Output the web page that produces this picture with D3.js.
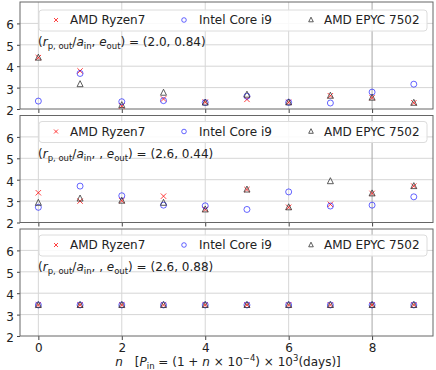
<!DOCTYPE html>
<html>
<head>
<meta charset="utf-8">
<script src="https://cdn.jsdelivr.net/npm/d3@7"></script>
<style>
  body { margin: 0; background: white; }
  text { font-family: "DejaVu Sans", sans-serif; }
</style>
</head>
<body>
<div id="chart"></div>
<script>
// data
const nValues = [0, 1, 2, 3, 4, 5, 6, 7, 8, 9];
const seriesNames = ["AMD Ryzen7", "Intel Core i9", "AMD EPYC 7502"];
const yTicks = [2, 3, 4, 5, 6];
const xTicks = [0, 2, 4, 6, 8];

const ryzenA = [4.40, 3.78, 2.14, 2.47, 2.32, 2.45, 2.31, 2.62, 2.53, 2.29];
const intelA = [2.37, 3.66, 2.34, 2.39, 2.30, 2.60, 2.31, 2.28, 2.79, 3.16];
const epycA  = [4.40, 3.16, 2.18, 2.76, 2.30, 2.67, 2.31, 2.62, 2.53, 2.29];

const ryzenB = [3.39, 3.00, 3.02, 3.23, 2.61, 3.54, 2.71, 2.85, 3.36, 3.70];
const intelB = [2.71, 3.70, 3.25, 2.81, 2.78, 2.61, 3.43, 2.77, 2.81, 3.20];
const epycB  = [2.92, 3.12, 3.02, 2.92, 2.61, 3.54, 2.71, 3.93, 3.36, 3.70];

const ryzenC = [3.45, 3.45, 3.45, 3.45, 3.45, 3.45, 3.45, 3.45, 3.45, 3.45];
const intelC = [3.45, 3.45, 3.45, 3.45, 3.45, 3.45, 3.45, 3.45, 3.45, 3.45];
const epycC  = [3.45, 3.45, 3.45, 3.45, 3.45, 3.45, 3.45, 3.45, 3.45, 3.45];

const panelParams = [["2.0", "0.84", false], ["2.6", "0.44", true], ["2.6", "0.88", true]];
const panelData = [[ryzenA, intelA, epycA], [ryzenB, intelB, epycB], [ryzenC, intelC, epycC]];

const w = 436, h = 370;
const left = 20, right = 433;
const panelTops = [2, 115.5, 229];
const panelH = 107;

const svg = d3.select("#chart").append("svg")
  .attr("width", w).attr("height", h)
  .style("background", "white");

const xScale = d3.scaleLinear().domain([-0.44, 9.46]).range([left, right]);

const red = "rgba(255,0,0,0.75)";
const blue = "rgba(0,0,255,0.6)";
const grey = "#333";

function drawMarker(g, kind, x, y, s) {
  if (kind === 0) {
    g.append("path")
      .attr("d", `M${x - s},${y - s}L${x + s},${y + s}M${x - s},${y + s}L${x + s},${y - s}`)
      .attr("stroke", red).attr("stroke-width", 1).attr("fill", "none");
  } else if (kind === 1) {
    g.append("circle").attr("cx", x).attr("cy", y).attr("r", s + 0.3)
      .attr("stroke", blue).attr("stroke-width", 1).attr("fill", "none");
  } else {
    g.append("path")
      .attr("d", `M${x},${y - s - 0.5}L${x + s},${y + s - 0.5}L${x - s},${y + s - 0.5}Z`)
      .attr("stroke", grey).attr("stroke-width", 0.8).attr("fill", "none");
  }
}

panelData.forEach((data, i) => {
  const top = panelTops[i];
  const yScale = d3.scaleLinear().domain([2, 7]).range([top + panelH, top]);
  const g = svg.append("g");

  // grid
  g.selectAll(".hg").data(yTicks.slice(1)).enter().append("line")
    .attr("x1", left).attr("x2", right)
    .attr("y1", d => yScale(d)).attr("y2", d => yScale(d))
    .attr("stroke", "#d6d6d6").attr("stroke-width", 1);
  g.selectAll(".vg").data(xTicks).enter().append("line")
    .attr("x1", d => xScale(d)).attr("x2", d => xScale(d))
    .attr("y1", top).attr("y2", top + panelH)
    .attr("stroke", d => d === 8 ? "#a8a8a8" : "#d6d6d6").attr("stroke-width", 1);

  // axes
  const yAxis = d3.axisLeft(yScale).tickValues(yTicks).tickFormat(d3.format("d")).tickSize(3).tickPadding(3);
  const yg = g.append("g").attr("transform", `translate(${left},0)`).call(yAxis);
  yg.select(".domain").remove();
  yg.selectAll("line").attr("stroke", "#444");
  yg.selectAll("text").style("font-size", "12px").style("font-family", "DejaVu Sans").attr("fill", "#222").attr("dy", "0.45em");

  const xAxis = d3.axisBottom(xScale).tickValues(xTicks).tickFormat(d3.format("d")).tickSize(4).tickPadding(3);
  const xg = g.append("g").attr("transform", `translate(0,${top + panelH})`).call(xAxis);
  xg.select(".domain").remove();
  xg.selectAll("line").attr("stroke", "#444");
  xg.selectAll("text").style("font-size", "12px").style("font-family", "DejaVu Sans").attr("fill", "#222");
  if (i < 2) xg.selectAll("text").remove();

  // frame
  g.append("rect").attr("x", left).attr("y", top).attr("width", right - left).attr("height", panelH)
    .attr("fill", "none").attr("stroke", "#666").attr("stroke-width", 1);

  // points
  const pts = g.append("g");
  data.forEach((vals, k) => {
    vals.forEach((v, j) => drawMarker(pts, k, xScale(nValues[j]), yScale(v), k === 2 ? 3 : 2.7));
  });

  // legend
  const ly = top + (i === 0 ? 18 : 16);
  const lg = g.append("g");
  lg.append("rect").attr("x", 39).attr("y", ly - 10).attr("width", 388).attr("height", 21).attr("rx", 3)
    .attr("fill", "rgba(255,255,255,0.85)").attr("stroke", "#dcdcdc");
  const mx = [56, 184, 311], tx = [70, 199, 324];
  seriesNames.forEach((name, k) => {
    drawMarker(lg, k, mx[k], ly, k === 2 ? 2.3 : 2);
    lg.append("text").attr("x", tx[k]).attr("y", ly).attr("dy", "0.36em")
      .style("font-size", "12px").attr("fill", "#222").text(name);
  });

  // annotation
  const p = panelParams[i];
  const at = g.append("text").attr("x", 38).attr("y", top + (i === 0 ? 44 : 42))
    .style("font-size", "12px").attr("fill", "#222");
  at.append("tspan").text("(");
  at.append("tspan").style("font-style", "italic").text("r");
  at.append("tspan").attr("dy", 3).style("font-size", "8.5px").text("p, out");
  at.append("tspan").attr("dy", -3).text("/");
  at.append("tspan").style("font-style", "italic").text("a");
  at.append("tspan").attr("dy", 3).style("font-size", "8.5px").text("in");
  at.append("tspan").attr("dy", -3).text(p[2] ? ", , " : ", ");
  at.append("tspan").style("font-style", "italic").text("e");
  at.append("tspan").attr("dy", 3).style("font-size", "8.5px").text("out");
  at.append("tspan").attr("dy", -3).text(`) = (${p[0]}, ${p[1]})`);
});

// x label
const xl = svg.append("text").attr("x", 228).attr("y", 366).attr("text-anchor", "middle")
  .style("font-size", "12px").attr("fill", "#222");
xl.append("tspan").style("font-style", "italic").text("n");
xl.append("tspan").text("\u2003[");
xl.append("tspan").style("font-style", "italic").text("P");
xl.append("tspan").attr("dy", 3).style("font-size", "8.5px").text("in");
xl.append("tspan").attr("dy", -3).text(" = (1 + ");
xl.append("tspan").style("font-style", "italic").text("n");
xl.append("tspan").text(" \u00d7 10");
xl.append("tspan").attr("dy", -5).style("font-size", "8.5px").text("\u22124");
xl.append("tspan").attr("dy", 5).text(") \u00d7 10");
xl.append("tspan").attr("dy", -5).style("font-size", "8.5px").text("3");
xl.append("tspan").attr("dy", 5).text("(days)]");
</script>
</body>
</html>
